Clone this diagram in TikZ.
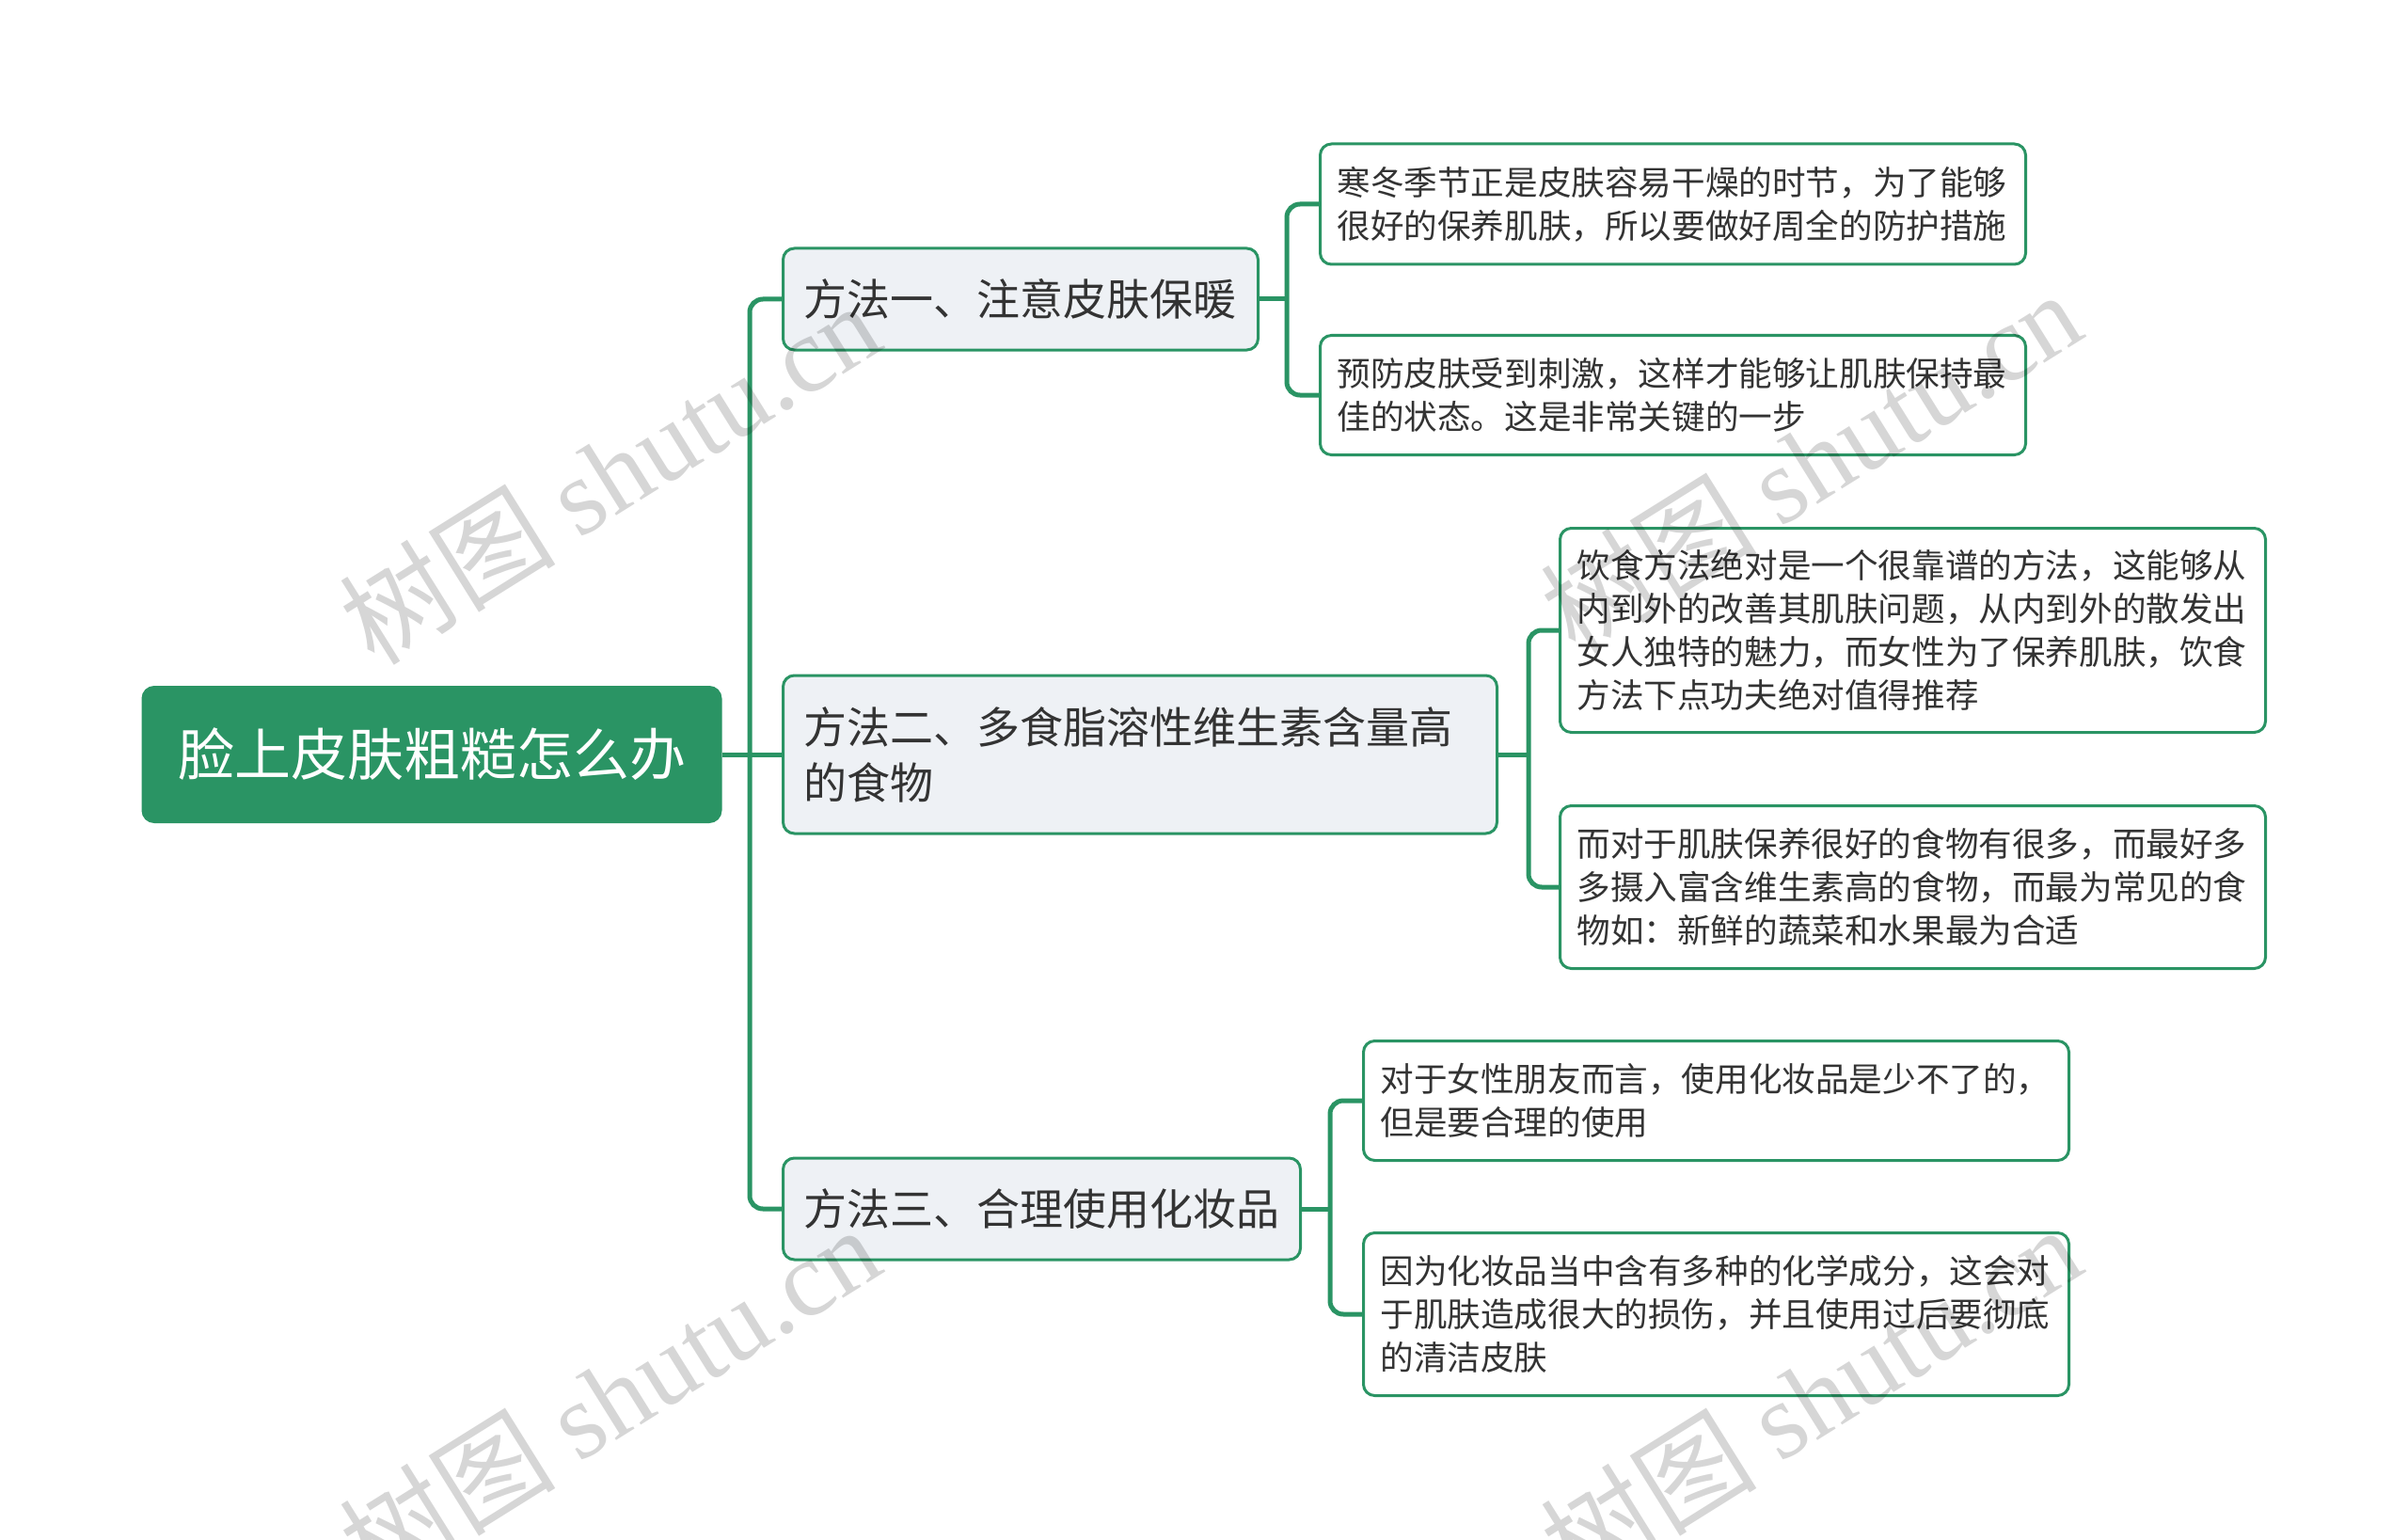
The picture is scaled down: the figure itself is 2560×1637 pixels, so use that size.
\documentclass[tikz,border=0pt]{standalone}
\usepackage{fontspec}
\setmainfont{Noto Sans CJK SC}
\newfontfamily\wmlatin{Liberation Serif}
\definecolor{mgreen}{HTML}{2A9464}
\definecolor{lfill}{HTML}{EEF1F5}
\definecolor{txt}{HTML}{333333}
\tikzset{
  rootbox/.style={draw=mgreen, fill=mgreen, line width=3, rounded corners=12,
    text=white, font=\fontsize{60}{72}\selectfont, inner sep=0},
  lonebox/.style={draw=mgreen, fill=lfill, line width=3, rounded corners=12,
    text=txt, font=\fontsize{46}{59}\selectfont, align=left, inner xsep=22, inner ysep=0, anchor=west},
  ltwobox/.style={draw=mgreen, fill=white, line width=3, rounded corners=12,
    text=txt, font=\fontsize{35.6}{46}\selectfont, align=left, inner xsep=18, inner ysep=0,
    text width=714, anchor=west},
  conn/.style={draw=mgreen, line width=5, rounded corners=14},
  wmark/.style={rotate=32, text=black, text opacity=0.16, font=\fontsize{115}{115}\selectfont}
}
\begin{document}
\begin{tikzpicture}[x=1pt,y=-1pt]
\useasboundingbox (0,0) rectangle (2560,1637);

\node[rootbox, minimum width=614, minimum height=143] (root) at (459,802) {脸上皮肤粗糙怎么办};

\node[lonebox, text width=461, minimum height=108] (L1a) at (831,318) {方法一、注意皮肤保暖};
\node[lonebox, text width=715, minimum height=168] (L1b) at (831,802) {方法二、多食脂溶性维生素含量高\\的食物};
\node[lonebox, text width=506, minimum height=108] (L1c) at (831,1285) {方法三、合理使用化妆品};

\node[ltwobox, minimum height=128] (L2a1) at (1402,217) {寒冬季节正是皮肤容易干燥的时节，为了能够\\很好的保养肌肤，所以要做好周全的防护措施};
\node[ltwobox, minimum height=127] (L2a2) at (1402,420) {预防皮肤受到刺激，这样才能够让肌肤保持最\\佳的状态。这是非常关键的一步};
\node[ltwobox, minimum height=217] (L2b1) at (1657,670) {饮食方法绝对是一个很靠谱的方法，这能够从\\内到外的改善其肌肤问题，从内到外的散发出\\女人独特的魅力，而女性为了保养肌肤，饮食\\方法下点功夫绝对值得推荐};
\node[ltwobox, minimum height=173] (L2b2) at (1657,943) {而对于肌肤保养很好的食物有很多，而最好多\\多摄入富含维生素高的食物，而最为常见的食\\物如：新鲜的蔬菜和水果最为合适};
\node[ltwobox, minimum height=127] (L2c1) at (1448,1170) {对于女性朋友而言，使用化妆品是少不了的，\\但是要合理的使用};
\node[ltwobox, minimum height=173] (L2c2) at (1448,1397) {因为化妆品当中含有多种的化学成分，这会对\\于肌肤造成很大的损伤，并且使用过后要彻底\\的清洁皮肤};

\coordinate (t1) at (797,0);
\coordinate (t2) at (1368,0);
\coordinate (t3) at (1625,0);
\coordinate (t4) at (1414,0);

\draw[conn] (root.east) -- (L1b.west);
\draw[conn] (L1a.west) -| (t1 |- L1c.west) -- (L1c.west);
\draw[conn] (L1a.east) -- (t2 |- L1a.east);
\draw[conn] (L2a1.west) -| (t2 |- L2a2.west) -- (L2a2.west);
\draw[conn] (L1b.east) -- (t3 |- L1b.east);
\draw[conn] (L2b1.west) -| (t3 |- L2b2.west) -- (L2b2.west);
\draw[conn] (L1c.east) -- (t4 |- L1c.east);
\draw[conn] (L2c1.west) -| (t4 |- L2c2.west) -- (L2c2.west);

\node[wmark] (w1) at (648,502) {树图 {\wmlatin shutu.cn}};
\node[wmark] (w2) at (1925,490) {树图 {\wmlatin shutu.cn}};
\node[wmark] (w3) at (648,1484) {树图 {\wmlatin shutu.cn}};
\node[wmark] (w4) at (1925,1484) {树图 {\wmlatin shutu.cn}};
\end{tikzpicture}
\end{document}
